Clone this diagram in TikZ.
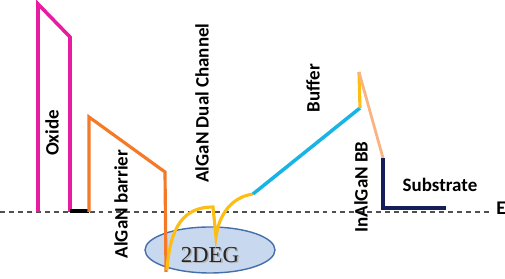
\documentclass[tikz,border=0pt]{standalone}
\usepackage{fontspec}
\setmainfont{Liberation Serif}
\setsansfont{Carlito}
\usetikzlibrary{calc}
\definecolor{oxidecol}{RGB}{232,28,160}
\definecolor{barriercol}{RGB}{244,122,40}
\definecolor{channelcol}{RGB}{252,190,20}
\definecolor{buffercol}{RGB}{24,180,230}
\definecolor{bbcol}{RGB}{250,180,130}
\definecolor{substratecol}{RGB}{22,30,90}
\definecolor{levelcol}{RGB}{80,80,80}
\definecolor{gasfill}{RGB}{200,216,238}
\definecolor{gasedge}{RGB}{70,110,170}
\tikzset{
  band/.style={line width=2pt, line join=miter},
  layerlabel/.style={font=\sffamily\bfseries\fontsize{10.8}{12}\selectfont, inner sep=0pt}
}

\begin{document}
\begin{tikzpicture}[x=0.02cm, y=-0.02cm]
  \useasboundingbox (0,0) rectangle (505,279);

  % --- coordinates (pixel grid, y pointing down) --------------------------
  \coordinate (OxL)  at (38,212);
  \coordinate (OxTL) at (38,4);
  \coordinate (OxTR) at (70,37);
  \coordinate (OxR)  at (70,212);
  \coordinate (BaL)  at (89,212);
  \coordinate (BaTL) at (89,117);
  \coordinate (BaTR) at (165,172);
  \coordinate (BaB)  at (166,272);
  \coordinate (ChA)  at (167,270);
  \coordinate (ChTop) at (213,207);
  \coordinate (ChDip) at (216,237);
  \coordinate (BuL)  at (253,194);
  \coordinate (BuR)  at (360,108);
  \coordinate (BBT)  at (359,72);
  \coordinate (SuT)  at (383,158);
  \coordinate (SuC)  at (383,208);
  \coordinate (SuR)  at (446,208);

  % --- Fermi level ---------------------------------------------------------
  \draw[levelcol, line width=0.8pt, dash pattern=on 2.8pt off 2.3pt] (0,212) -- (490,212);
  \node[font=\sffamily\bfseries\fontsize{11}{12}\selectfont, anchor=west, inner sep=0pt] (Ef) at (496,208) {E};

  % --- 2DEG ---------------------------------------------------------------
  \draw[gasedge, fill=gasfill, line width=0.8pt] (210,250) ellipse [x radius=65, y radius=23];
  \node[font=\fontsize{13}{14}\selectfont, inner sep=0pt, text=black!30] at (211.5,256.5) {2DEG};
  \node[font=\fontsize{13}{14}\selectfont, inner sep=0pt, text=black!85] (Gas) at (210,255) {2DEG};

  % --- band edges ---------------------------------------------------------
  \draw[band, oxidecol] (OxL) -- (OxTL) -- (OxTR) -- (OxR);
  \draw[line width=2.2pt] (OxR) ++(0,-1) -- ($(BaL)+(0,-1)$);
  \draw[band, barriercol, line width=1.8pt] (BaL) -- (BaTL) -- (BaTR) -- (BaB);
  \draw[band, channelcol, line width=1.8pt]
    (ChA) .. controls (170,225) and (185,207) .. (ChTop)
    -- (ChDip) .. controls (219,214) and (232,197) .. (BuL);
  \draw[band, buffercol] (BuL) -- (BuR);
  \draw[band, channelcol, line width=1.8pt] (BuR) -- (BBT);
  \draw[band, bbcol, line width=1.6pt] (BBT) -- (SuT);
  \draw[band, substratecol] (SuT) -- (SuC) -- (SuR);

  % --- layer names --------------------------------------------------------
  \node[layerlabel, rotate=90] (OxName) at (52,133) {Oxide};
  \node[layerlabel, rotate=90] (BaName) at (121,204) {AlGaN barrier};
  \node[layerlabel, rotate=90] (ChName) at (202,103) {AlGaN Dual Channel};
  \node[layerlabel, rotate=90] (BuName) at (313,88) {Buffer};
  \node[layerlabel, rotate=90] (BBName) at (361,187) {InAlGaN BB};
  \node[layerlabel] (SuName) at (440,185) {Substrate};

\end{tikzpicture}
\end{document}
